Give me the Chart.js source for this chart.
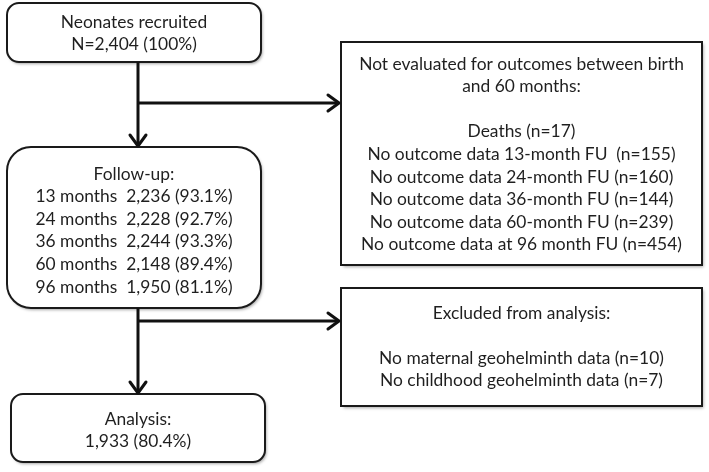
<!DOCTYPE html>
<html>
<head>
<meta charset="utf-8">
<script src="https://cdn.jsdelivr.net/npm/chart.js@4/dist/chart.umd.min.js"></script>
<style>
  html, body { margin: 0; padding: 0; background: #fff; }
  canvas { display: block; }
</style>
</head>
<body>
<canvas id="flowChart" width="709" height="472"></canvas>
<script>
// numbers from the flow diagram
const nRecruited = 2404;
const fuMonths = [13, 24, 36, 60, 96];
const fuCounts = [2236, 2228, 2244, 2148, 1950];
const fuPercent = [93.1, 92.7, 93.3, 89.4, 81.1];
const lostLabels = ["Deaths", "No outcome data 13-month FU ", "No outcome data 24-month FU",
    "No outcome data 36-month FU", "No outcome data 60-month FU", "No outcome data at 96 month FU"];
const lostCounts = [17, 155, 160, 144, 239, 454];
const excludedLabels = ["No maternal geohelminth data", "No childhood geohelminth data"];
const excludedCounts = [10, 7];
const analysisCount = 1933;
const analysisPercent = 80.4;

function fmt(n) { return n.toLocaleString("en-US"); }

const boxTexts = {
    recruited: ["Neonates recruited", "N=" + fmt(nRecruited) + " (100%)"],
    followUp: ["Follow-up:"].concat(fuMonths.map((m, i) =>
        m + " months  " + fmt(fuCounts[i]) + " (" + fuPercent[i].toFixed(1) + "%)")),
    lost: ["Not evaluated for outcomes between birth", "and 60 months:", ""].concat(
        lostLabels.map((l, i) => l + " (n=" + lostCounts[i] + ")")),
    excluded: ["Excluded from analysis:", ""].concat(
        excludedLabels.map((l, i) => l + " (n=" + excludedCounts[i] + ")")),
    analysis: ["Analysis:", fmt(analysisCount) + " (" + analysisPercent.toFixed(1) + "%)"]
};

// layout, in axis units (axes span the canvas)
const layout = [
    { key: "recruited", x0: 7, y0: 3, x1: 261, y1: 62, r: 12, firstY: 22 },
    { key: "followUp", x0: 7, y0: 147, x1: 261, y1: 308, r: 24, firstY: 174 },
    { key: "analysis", x0: 11, y0: 394, x1: 265, y1: 462, r: 12, firstY: 419 },
    { key: "lost", x0: 341, y0: 42, x1: 702, y1: 265, r: 0, firstY: 64 },
    { key: "excluded", x0: 341, y0: 288, x1: 702, y1: 406, r: 0, firstY: 313 }
];
const lineGap = 22.6;

const connectors = [
    { pts: [[138, 62], [138, 146]], arrow: "down" },
    { pts: [[138, 103], [339, 103]], arrow: "right" },
    { pts: [[138, 308], [138, 393]], arrow: "down" },
    { pts: [[138, 321], [339, 321]], arrow: "right" }
];

const boxPlugin = {
    id: "boxes",
    beforeDatasetsDraw(chart) {
        const ctx = chart.ctx;
        const xs = chart.scales.x, ys = chart.scales.y;
        layout.forEach(b => {
            const x0 = xs.getPixelForValue(b.x0), x1 = xs.getPixelForValue(b.x1);
            const y0 = ys.getPixelForValue(b.y0), y1 = ys.getPixelForValue(b.y1);
            ctx.save();
            ctx.shadowColor = "rgba(0,0,0,0.35)";
            ctx.shadowBlur = 3;
            ctx.shadowOffsetX = 1.5;
            ctx.shadowOffsetY = 2;
            ctx.beginPath();
            ctx.roundRect(x0, y0, x1 - x0, y1 - y0, b.r);
            ctx.fillStyle = "#fff";
            ctx.fill();
            ctx.shadowColor = "transparent";
            ctx.lineWidth = 2;
            ctx.strokeStyle = "#1a1a1a";
            ctx.stroke();
            ctx.restore();

            ctx.save();
            ctx.fillStyle = "#1f1f1f";
            ctx.font = "17.4px Lato, 'Open Sans', sans-serif";
            ctx.textAlign = "center";
            ctx.textBaseline = "middle";
            const cx = (x0 + x1) / 2;
            boxTexts[b.key].forEach((t, i) => {
                if (t) ctx.fillText(t, cx, ys.getPixelForValue(b.firstY + i * lineGap));
            });
            ctx.restore();
        });
    },
    afterDatasetsDraw(chart) {
        const ctx = chart.ctx;
        const xs = chart.scales.x, ys = chart.scales.y;
        ctx.save();
        ctx.strokeStyle = "#111";
        ctx.lineWidth = 3;
        ctx.lineCap = "round";
        ctx.lineJoin = "round";
        connectors.forEach(c => {
            const end = c.pts[c.pts.length - 1];
            const px = xs.getPixelForValue(end[0]), py = ys.getPixelForValue(end[1]);
            ctx.beginPath();
            if (c.arrow === "down") {
                ctx.moveTo(px - 8, py - 11);
                ctx.lineTo(px, py);
                ctx.lineTo(px + 8, py - 11);
            } else {
                ctx.moveTo(px - 11, py - 8);
                ctx.lineTo(px, py);
                ctx.lineTo(px - 11, py + 8);
            }
            ctx.stroke();
        });
        ctx.restore();
    }
};

new Chart(document.getElementById("flowChart"), {
    type: "scatter",
    data: {
        datasets: connectors.map(c => ({
            data: c.pts.map(p => ({ x: p[0], y: p[1] })),
            showLine: true,
            borderColor: "#111",
            borderWidth: 3,
            pointRadius: 0,
            tension: 0
        }))
    },
    options: {
        responsive: false,
        animation: false,
        layout: { padding: 0 },
        plugins: { legend: { display: false }, tooltip: { enabled: false } },
        scales: {
            x: { type: "linear", min: 0, max: 709, display: false },
            y: { type: "linear", min: 0, max: 472, reverse: true, display: false }
        }
    },
    plugins: [boxPlugin]
});
</script>
</body>
</html>
